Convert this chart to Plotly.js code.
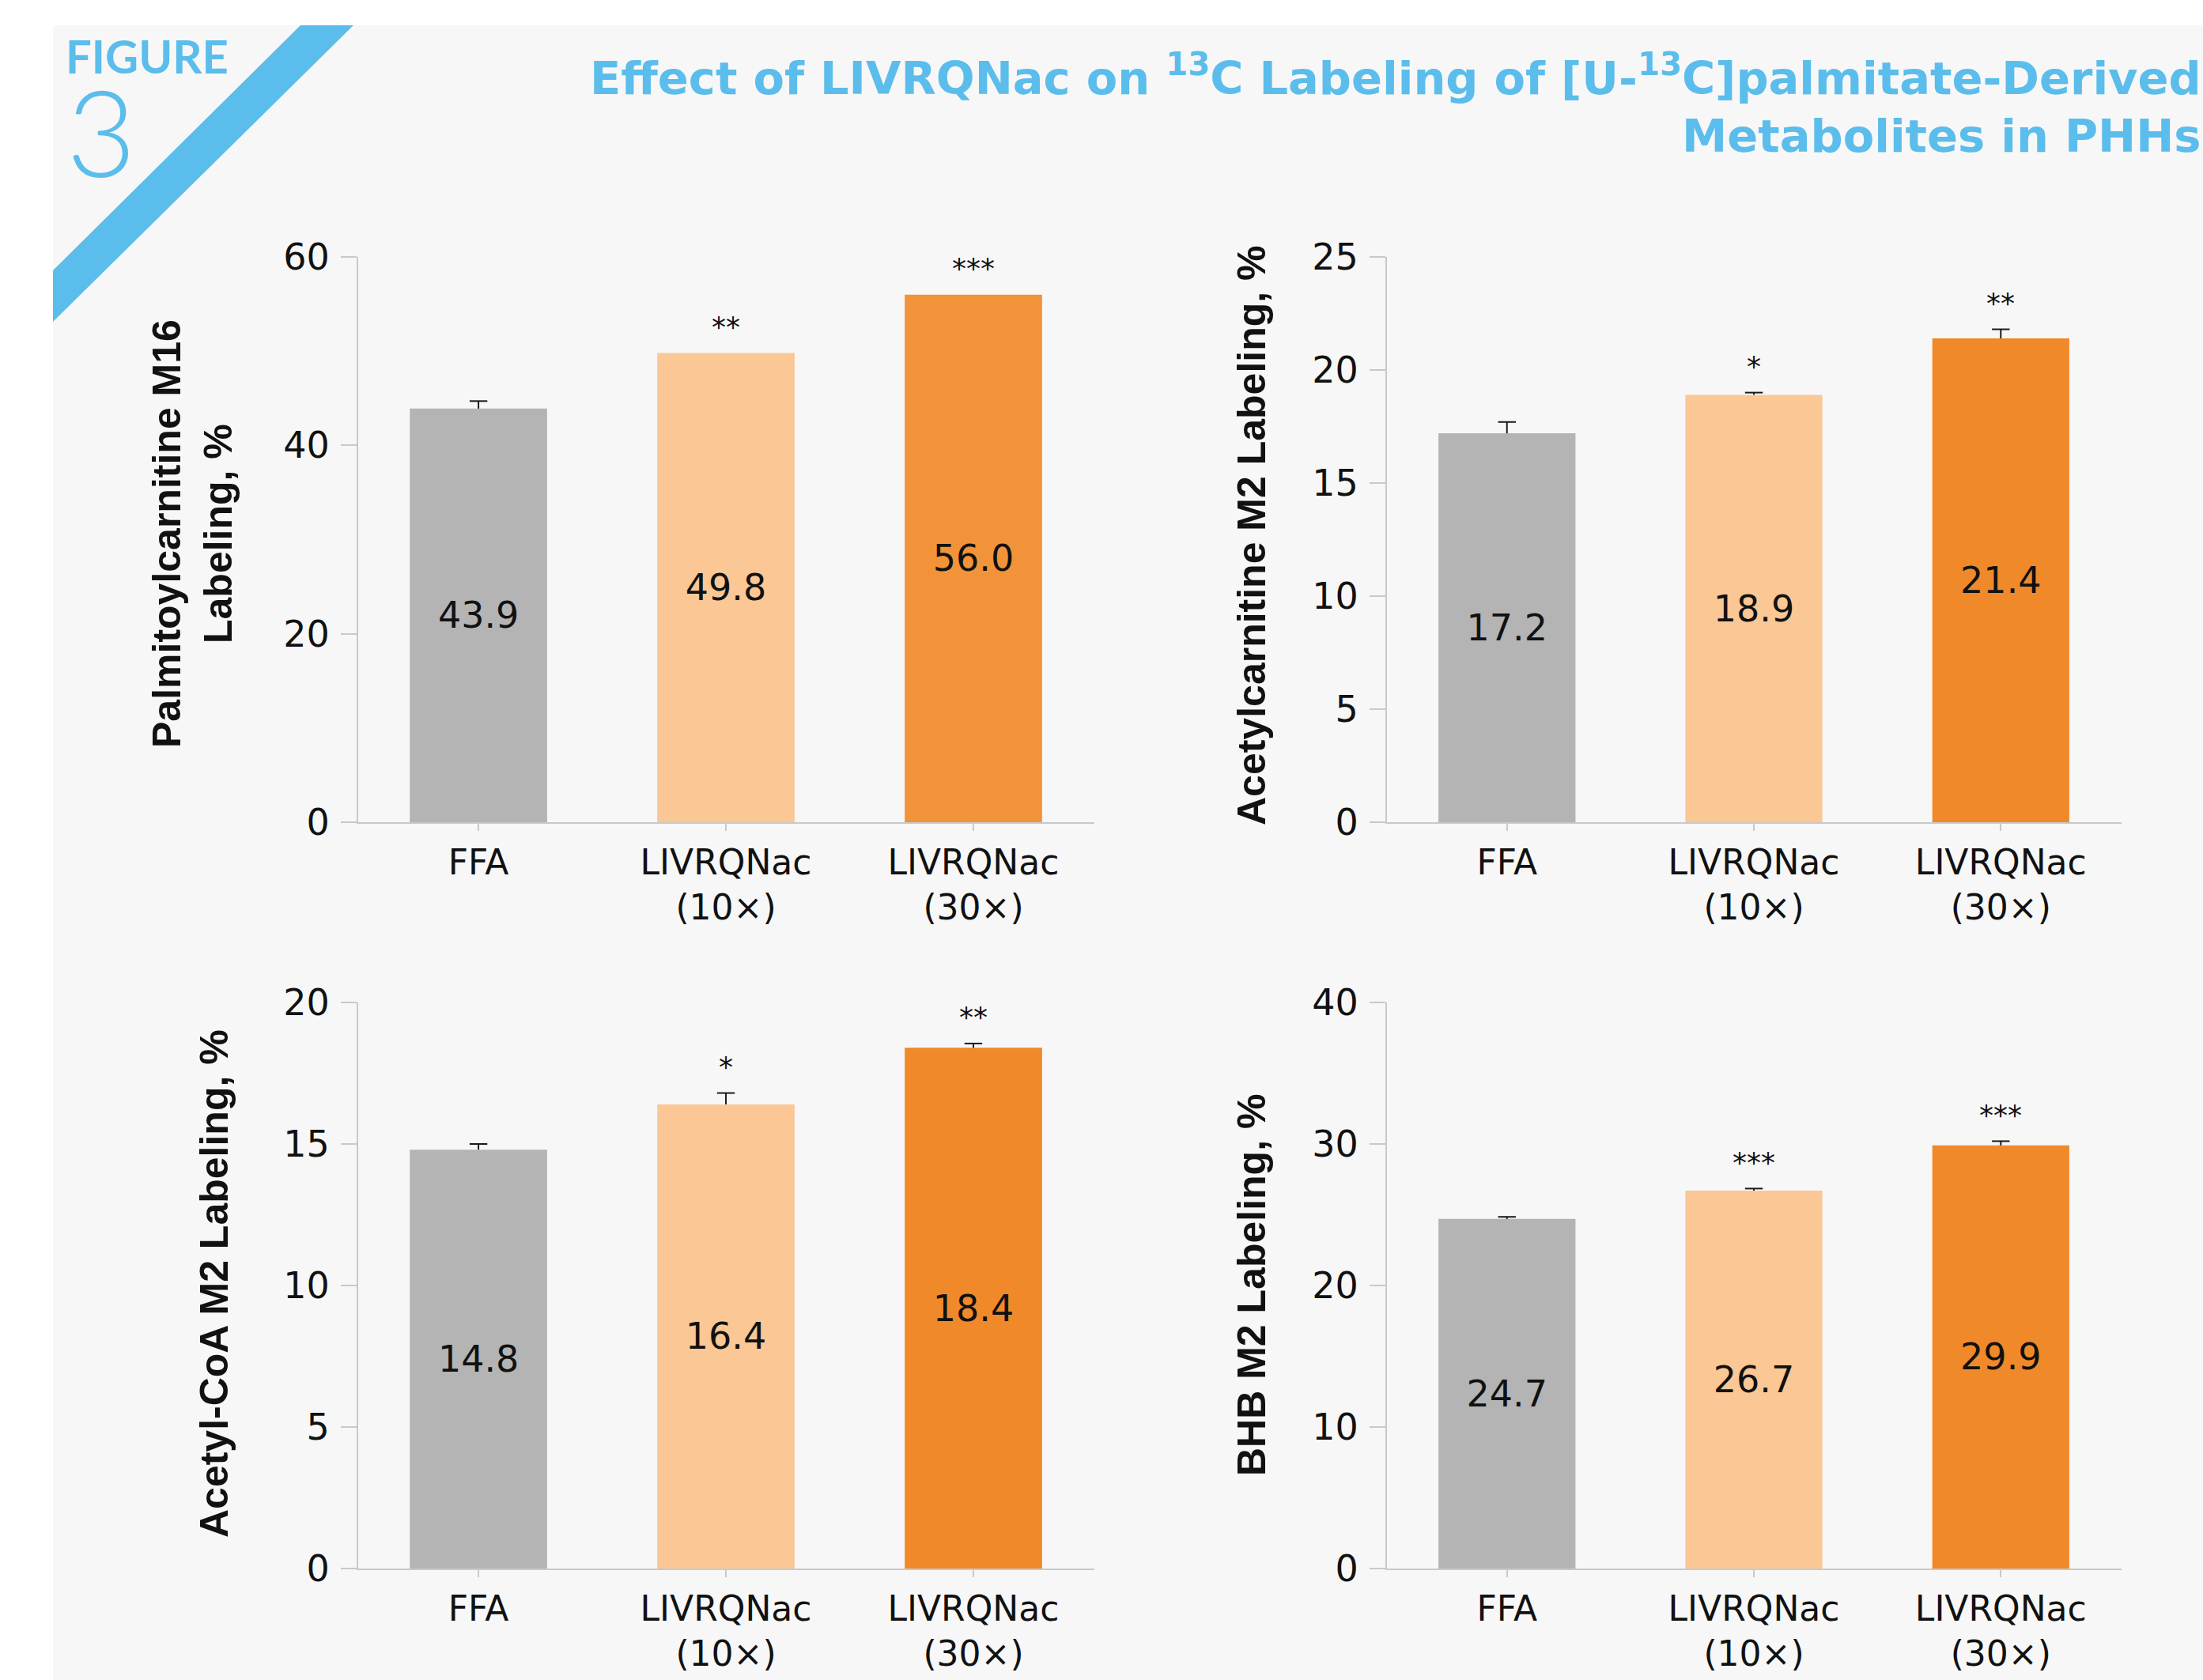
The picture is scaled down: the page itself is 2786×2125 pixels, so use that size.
<!DOCTYPE html>
<html>
<head>
<meta charset="utf-8">
<script src="https://cdn.plot.ly/plotly-3.0.1.min.js"></script>
<style>
  html, body { margin: 0; padding: 0; background: #ffffff; }
  #chart { width: 2786px; height: 2125px; }
</style>
</head>
<body>
<div id="chart"></div>
<script>
// ---------------- DATA ----------------
const categories = ["FFA", "LIVRQNac (10×)", "LIVRQNac (30×)"];
const tickLabels = ["FFA", "LIVRQNac<br>(10×)", "LIVRQNac<br>(30×)"];

const palmitoylcarnitineM16 = [43.9, 49.8, 56.0];
const palmitoylcarnitineErr = [0.8, NaN, NaN];
const palmitoylcarnitineSig = ["", "**", "***"];

const acetylcarnitineM2 = [17.2, 18.9, 21.4];
const acetylcarnitineErr = [0.5, 0.1, 0.4];
const acetylcarnitineSig = ["", "*", "**"];

const acetylCoAM2 = [14.8, 16.4, 18.4];
const acetylCoAErr = [0.2, 0.4, 0.15];
const acetylCoASig = ["", "*", "**"];

const bhbM2 = [24.7, 26.7, 29.9];
const bhbErr = [0.15, 0.15, 0.3];
const bhbSig = ["", "***", "***"];

const panelTitles = [
  "Palmitoylcarnitine M16<br>Labeling, %",
  "Acetylcarnitine M2 Labeling, %",
  "Acetyl-CoA M2 Labeling, %",
  "BHB M2 Labeling, %"
];
const yMax = [60, 25, 20, 40];
const yStep = [20, 5, 5, 10];

// ---------------- STYLE / LAYOUT ----------------
const W = 2786, H = 2125;
const px = x => x / W;
const py = y => 1 - y / H;

const BLUE = "#5bbdeb";
const AXIS = "#c9c9c9";
const TXT = "#111111";
const FONT = "'DejaVu Sans', sans-serif";
const LOGOFONT = "Lato, 'Open Sans', sans-serif";
const TITLEFONT = "'Liberation Sans', Arial, sans-serif";

const panels = [
  { vals: palmitoylcarnitineM16, err: palmitoylcarnitineErr, sig: palmitoylcarnitineSig,
    colors: ["#b4b4b5", "#fac795", "#f29339"], xd: [453, 1384], yd: [325, 1040], tx: 243, ty: 675 },
  { vals: acetylcarnitineM2, err: acetylcarnitineErr, sig: acetylcarnitineSig,
    colors: ["#b4b4b5", "#fac795", "#f0892a"], xd: [1754, 2683], yd: [325, 1040], tx: 1583, ty: 677 },
  { vals: acetylCoAM2, err: acetylCoAErr, sig: acetylCoASig,
    colors: ["#b4b4b5", "#fac795", "#f0892a"], xd: [453, 1384], yd: [1268, 1984], tx: 271, ty: 1624 },
  { vals: bhbM2, err: bhbErr, sig: bhbSig,
    colors: ["#b4b4b5", "#fac795", "#f0892a"], xd: [1754, 2683], yd: [1268, 1984], tx: 1583, ty: 1626 }
];

const traces = [];
const layout = {
  width: W, height: H,
  margin: { l: 0, r: 0, t: 0, b: 0, pad: 0 },
  paper_bgcolor: "#ffffff",
  plot_bgcolor: "rgba(0,0,0,0)",
  showlegend: false,
  font: { family: FONT, color: TXT },
  shapes: [
    { type: "rect", xref: "paper", yref: "paper", layer: "below",
      x0: px(67), x1: 1, y0: 0, y1: py(32), fillcolor: "#f7f7f7", line: { width: 0 } },
    { type: "path", xref: "paper", yref: "paper", layer: "below",
      path: `M ${px(380)} ${py(32)} L ${px(447)} ${py(32)} L ${px(67)} ${py(407)} L ${px(67)} ${py(342)} Z`,
      fillcolor: BLUE, line: { width: 0 } }
  ],
  annotations: [
    { xref: "paper", yref: "paper", x: px(81), y: py(70), xanchor: "left", yanchor: "middle",
      text: "FIGURE", showarrow: false, font: { family: LOGOFONT, size: 58, color: BLUE, weight: "bold" } },
    { xref: "paper", yref: "paper", x: px(82), y: py(165), xanchor: "left", yanchor: "middle",
      text: "3", showarrow: false, font: { family: LOGOFONT, size: 152, color: BLUE, weight: 300 } },
    { xref: "paper", yref: "paper", x: px(2786), y: py(96), xanchor: "right", yanchor: "middle",
      text: "Effect of LIVRQNac on <sup>13</sup>C Labeling of [U-<sup>13</sup>C]palmitate-Derived",
      showarrow: false, font: { family: FONT, size: 57.5, color: BLUE, weight: "bold" } },
    { xref: "paper", yref: "paper", x: px(2786), y: py(173), xanchor: "right", yanchor: "middle",
      text: "Metabolites in PHHs",
      showarrow: false, font: { family: FONT, size: 57.5, color: BLUE, weight: "bold" } }
  ]
};

panels.forEach((p, i) => {
  const n = i === 0 ? "" : String(i + 1);
  const xa = "x" + n, ya = "y" + n;
  const capY = p.vals.map((v, k) => v + p.err[k]);

  traces.push({
    type: "bar", x: categories, y: p.vals, xaxis: xa, yaxis: ya,
    width: 0.555,
    marker: { color: p.colors, line: { width: 0 } },
    text: p.vals.map(v => v.toFixed(1)),
    textposition: "inside", insidetextanchor: "middle", textangle: 0,
    insidetextfont: { family: FONT, size: 46, color: TXT },
    cliponaxis: false,
    error_y: { type: "data", symmetric: false, array: p.err, arrayminus: p.err.map(() => 0),
      color: "#1a1a1a", thickness: 2, width: 0, visible: true },
    hoverinfo: "skip"
  });
  traces.push({
    type: "scatter", mode: "markers", x: categories, y: capY, xaxis: xa, yaxis: ya,
    marker: { symbol: "line-ew", size: 16, line: { width: 2, color: "#1a1a1a" } },
    cliponaxis: false, hoverinfo: "skip"
  });

  layout["xaxis" + n] = {
    domain: [px(p.xd[0]), px(p.xd[1])], anchor: ya,
    type: "category", categoryorder: "array", categoryarray: categories,
    range: [-0.486, 2.489],
    tickvals: categories, ticktext: tickLabels,
    ticks: "outside", ticklen: 9, tickwidth: 2, tickcolor: AXIS,
    showline: true, linecolor: AXIS, linewidth: 2,
    showgrid: false, zeroline: false, fixedrange: true,
    tickfont: { family: FONT, size: 44, color: TXT },
    ticklabelstandoff: 2
  };
  layout["yaxis" + n] = {
    domain: [py(p.yd[1]), py(p.yd[0])], anchor: xa,
    range: [0, yMax[i]], dtick: yStep[i], tick0: 0,
    ticks: "outside", ticklen: 20, tickwidth: 2, tickcolor: AXIS,
    showline: true, linecolor: AXIS, linewidth: 2,
    showgrid: false, zeroline: false, fixedrange: true,
    tickfont: { family: FONT, size: 46, color: TXT },
    ticklabelstandoff: 5
  };

  // y-axis title
  layout.annotations.push({
    xref: "paper", yref: "paper", x: px(p.tx), y: py(p.ty), xanchor: "center", yanchor: "middle",
    text: panelTitles[i], textangle: -90, showarrow: false, align: "center",
    font: { family: TITLEFONT, size: 50, color: TXT, weight: "bold" }
  });

  // significance stars
  p.sig.forEach((s, k) => {
    if (!s) return;
    const top = p.vals[k] + (isNaN(p.err[k]) ? 0 : p.err[k]);
    layout.annotations.push({
      xref: xa, yref: ya, x: categories[k], y: top, xanchor: "center", yanchor: "middle",
      yshift: 33, text: s, showarrow: false,
      font: { family: FONT, size: 36, color: TXT }
    });
  });
});

Plotly.newPlot("chart", traces, layout, { displayModeBar: false, staticPlot: true });
</script>
</body>
</html>
